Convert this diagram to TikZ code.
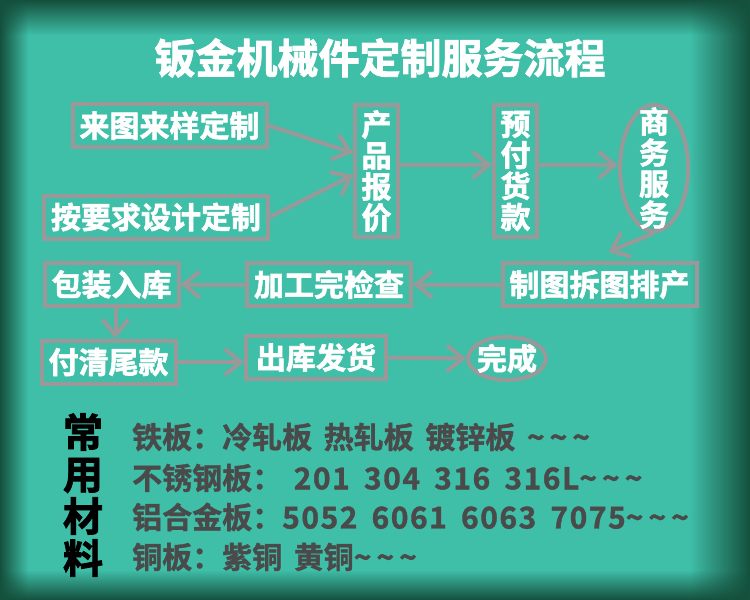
\documentclass[tikz,border=0pt]{standalone}
\usepackage{fontspec}
\setmainfont{Noto Sans CJK SC}[BoldFont={Noto Sans CJK SC Bold}, BoldFeatures={FakeBold=2}]
\newfontfamily\MaterialFamily{Noto Sans CJK SC}[BoldFont={Noto Sans CJK SC Bold},
    BoldFeatures={FakeBold=1.2}, WordSpace=1.7]
\usetikzlibrary{calc, arrows.meta, shapes.geometric, fadings}
\definecolor{BackgroundBase}{HTML}{3FBEA8}
\definecolor{BackgroundEdge}{HTML}{14503C}
\definecolor{FlowLine}{HTML}{9A9898}
\definecolor{MaterialText}{HTML}{4A4A4A}
\tikzfading[name=FadeFromLeft, left color=transparent!0, right color=transparent!100]
\tikzfading[name=FadeFromRight, left color=transparent!100, right color=transparent!0]
\tikzfading[name=FadeFromTop, top color=transparent!0, bottom color=transparent!100]
\tikzfading[name=FadeFromBottom, top color=transparent!100, bottom color=transparent!0]
\newcommand\FlowFont{\bfseries\fontsize{30}{31}\selectfont}
\newcommand\MaterialFont{\MaterialFamily\bfseries\fontsize{30}{30}\selectfont}
\newcommand\Digits[1]{{\addfontfeatures{LetterSpace=5}#1}}
\newcommand\Wave{\textasciitilde\hspace{5pt}}
\tikzset{
    FlowBox/.style={draw=FlowLine, line width=4pt, text=white, font=\FlowFont,
        inner xsep=7pt, inner ysep=0pt, minimum height=43pt},
    VerticalBox/.style={FlowBox, align=center, inner xsep=0pt,
        minimum width=43pt, minimum height=132pt},
    FlowRing/.style={ellipse, draw=FlowLine, line width=4pt, inner sep=0pt},
    FlowArrow/.style={draw=FlowLine, line width=4pt,
        -{Straight Barb[length=16pt, width=26pt]}},
    MaterialLine/.style={anchor=west, inner sep=0pt, text=MaterialText, font=\MaterialFont},
}

\begin{document}
\begin{tikzpicture}[x=1pt, y=-1pt]

    % 背景
    \useasboundingbox (0, 0) rectangle (750, 600);
    \fill[BackgroundBase] (0, 0) rectangle (750, 600);
    \fill[BackgroundEdge, path fading=FadeFromLeft] (0, 0) rectangle (28, 600);
    \fill[BackgroundEdge, path fading=FadeFromRight] (690, 0) rectangle (750, 600);
    \fill[BackgroundEdge, path fading=FadeFromTop] (0, 0) rectangle (750, 35);
    \fill[BackgroundEdge, path fading=FadeFromBottom] (0, 570) rectangle (750, 600);

    \node[text=white, font=\bfseries\fontsize{41}{41}\selectfont] (title) at (380, 58)
        {钣金机械件定制服务流程};

    % 第一行
    \node[FlowBox] (laitu) at (169.5, 125.5) {来图来样定制};
    \node[FlowBox] (anyaoqiu) at (156, 217) {按要求设计定制};
    \node[VerticalBox] (baojia) at (376.5, 171) {产\\品\\报\\价};
    \node[VerticalBox] (yufu) at (515.5, 171) {预\\付\\货\\款};
    \node[FlowRing, minimum width=68pt, minimum height=126pt] (shangwu) at (654, 168) {};
    \node[text=white, font=\FlowFont, align=center] (shangwutext) at (shangwu.center)
        {商\\务\\服\\务};

    % 第二行
    \node[FlowBox] (zhitu) at (599.5, 284.5) {制图拆图排产};
    \node[FlowBox] (jiagong) at (329, 284.5) {加工完检查};
    \node[FlowBox] (baozhuang) at (111.5, 284.5) {包装入库};

    % 第三行
    \node[FlowBox] (fuqing) at (108.5, 362) {付清尾款};
    \node[FlowBox, minimum width=140pt] (chuku) at (316, 357.5) {出库发货};
    \node[FlowRing, minimum width=78pt, minimum height=43pt] (wancheng) at (507, 358.5) {};
    \node[text=white, font=\FlowFont] (wanchengtext) at (wancheng.center) {完成};

    \draw[FlowArrow] (laitu.east) -- ([yshift=18pt]baojia.west);
    \draw[FlowArrow] (anyaoqiu.east) -- ([yshift=-4pt]baojia.west);
    \draw[FlowArrow] ([yshift=6pt]baojia.east) -- ([yshift=6pt]yufu.west);
    \draw[FlowArrow] ([yshift=6pt]yufu.east) -- ([yshift=6pt]yufu.east -| shangwu.west);
    \draw[FlowArrow] (shangwu.south) -- ([xshift=9pt, yshift=9pt]zhitu.north);
    \draw[FlowArrow] (zhitu.west) -- (jiagong.east);
    \draw[FlowArrow] (jiagong.west) -- (baozhuang.east);
    \draw[FlowArrow] ([xshift=4pt]baozhuang.south) -- ([xshift=4pt]baozhuang.south |- fuqing.north);
    \draw[FlowArrow] (fuqing.east) -- (fuqing.east -| chuku.west);
    \draw[FlowArrow] (chuku.east) -- (wancheng.west);

    % 常用材料
    \node[text=black, font=\bfseries\fontsize{40}{42}\selectfont, align=center]
        (changyong) at (83, 495) {常\\用\\材\\料};
    \node[MaterialLine] (tieban) at (132, 437) {铁板：冷轧板 热轧板 镀锌板 \Wave\Wave\Wave};
    \node[MaterialLine] (buxiu) at (132, 478) {不锈钢板： \Digits{201 304 316 316L}\Wave\Wave\Wave};
    \node[MaterialLine] (lvhe) at (132, 517) {铝合金板：\Digits{5052 6061 6063 7075}\Wave\Wave\Wave};
    \node[MaterialLine] (tongban) at (132, 557) {铜板：紫铜 黄铜\Wave\Wave\Wave};
\end{tikzpicture}
\end{document}
